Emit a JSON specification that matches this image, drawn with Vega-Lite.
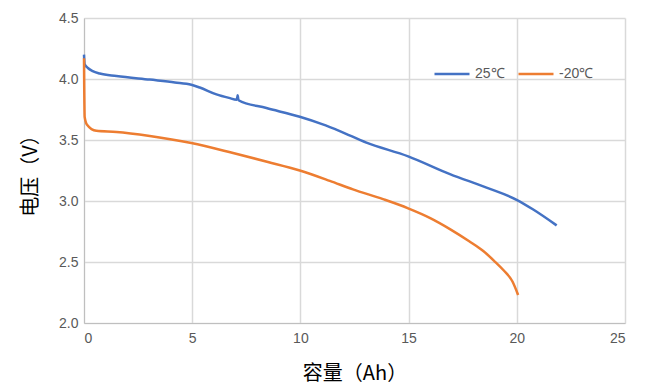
{
  "$schema": "https://vega.github.io/schema/vega-lite/v6.json",
  "autosize": {"type": "none"},
  "width": 541,
  "height": 305,
  "padding": {"left": 84, "top": 18, "right": 20, "bottom": 69},
  "background": "white",
  "config": {
    "view": {"stroke": null},
    "font": "Liberation Sans"
  },
  "data": {
    "values": [
      {"x": 0.0, "y": 4.2, "s": "25℃", "o": 1},
      {"x": 0.03, "y": 4.12, "s": "25℃", "o": 2},
      {"x": 0.18, "y": 4.09, "s": "25℃", "o": 3},
      {"x": 0.4, "y": 4.065, "s": "25℃", "o": 4},
      {"x": 0.73, "y": 4.045, "s": "25℃", "o": 5},
      {"x": 1.5, "y": 4.025, "s": "25℃", "o": 6},
      {"x": 3.04, "y": 3.995, "s": "25℃", "o": 7},
      {"x": 4.2, "y": 3.972, "s": "25℃", "o": 8},
      {"x": 4.96, "y": 3.953, "s": "25℃", "o": 9},
      {"x": 5.35, "y": 3.93, "s": "25℃", "o": 10},
      {"x": 6.12, "y": 3.874, "s": "25℃", "o": 11},
      {"x": 6.7, "y": 3.845, "s": "25℃", "o": 12},
      {"x": 7.06, "y": 3.83, "s": "25℃", "o": 13},
      {"x": 7.1, "y": 3.866, "s": "25℃", "o": 14},
      {"x": 7.14, "y": 3.826, "s": "25℃", "o": 15},
      {"x": 8.43, "y": 3.762, "s": "25℃", "o": 16},
      {"x": 9.97, "y": 3.69, "s": "25℃", "o": 17},
      {"x": 11.0, "y": 3.63, "s": "25℃", "o": 18},
      {"x": 11.82, "y": 3.573, "s": "25℃", "o": 19},
      {"x": 13.05, "y": 3.478, "s": "25℃", "o": 20},
      {"x": 14.98, "y": 3.366, "s": "25℃", "o": 21},
      {"x": 16.91, "y": 3.22, "s": "25℃", "o": 22},
      {"x": 18.6, "y": 3.11, "s": "25℃", "o": 23},
      {"x": 19.99, "y": 3.01, "s": "25℃", "o": 24},
      {"x": 20.76, "y": 2.93, "s": "25℃", "o": 25},
      {"x": 21.84, "y": 2.8, "s": "25℃", "o": 26},
      {"x": 0.0, "y": 4.17, "s": "-20℃", "o": 1},
      {"x": 0.03, "y": 3.69, "s": "-20℃", "o": 2},
      {"x": 0.14, "y": 3.625, "s": "-20℃", "o": 3},
      {"x": 0.57, "y": 3.575, "s": "-20℃", "o": 4},
      {"x": 1.5, "y": 3.566, "s": "-20℃", "o": 5},
      {"x": 3.04, "y": 3.533, "s": "-20℃", "o": 6},
      {"x": 4.96, "y": 3.475, "s": "-20℃", "o": 7},
      {"x": 6.89, "y": 3.393, "s": "-20℃", "o": 8},
      {"x": 8.5, "y": 3.32, "s": "-20℃", "o": 9},
      {"x": 9.97, "y": 3.25, "s": "-20℃", "o": 10},
      {"x": 11.36, "y": 3.165, "s": "-20℃", "o": 11},
      {"x": 12.43, "y": 3.095, "s": "-20℃", "o": 12},
      {"x": 13.82, "y": 3.015, "s": "-20℃", "o": 13},
      {"x": 14.98, "y": 2.94, "s": "-20℃", "o": 14},
      {"x": 16.0, "y": 2.86, "s": "-20℃", "o": 15},
      {"x": 16.91, "y": 2.77, "s": "-20℃", "o": 16},
      {"x": 17.8, "y": 2.67, "s": "-20℃", "o": 17},
      {"x": 18.45, "y": 2.59, "s": "-20℃", "o": 18},
      {"x": 18.95, "y": 2.51, "s": "-20℃", "o": 19},
      {"x": 19.4, "y": 2.43, "s": "-20℃", "o": 20},
      {"x": 19.8, "y": 2.34, "s": "-20℃", "o": 21},
      {"x": 20.06, "y": 2.23, "s": "-20℃", "o": 22}
    ]
  },
  "mark": {"type": "line", "strokeWidth": 2.5, "interpolate": "monotone"},
  "encoding": {
    "x": {
      "field": "x",
      "type": "quantitative",
      "scale": {"domain": [0, 25], "nice": false, "zero": false},
      "axis": {
        "values": [0, 5, 10, 15, 20, 25],
        "title": "容量（Ah）",
        "titleFont": "Noto Sans CJK SC",
        "titleFontSize": 20,
        "titleFontWeight": "normal",
        "titleColor": "#000000",
        "titlePadding": 18,
        "labelFont": "Liberation Sans",
        "labelFontSize": 14,
        "labelColor": "#595959",
        "labelPadding": 8,
        "ticks": false,
        "domainColor": "#bfbfbf",
        "gridColor": "#d9d9d9",
        "gridWidth": 1.5
      }
    },
    "y": {
      "field": "y",
      "type": "quantitative",
      "scale": {"domain": [2.0, 4.5], "nice": false, "zero": false},
      "axis": {
        "values": [2.0, 2.5, 3.0, 3.5, 4.0, 4.5],
        "format": ".1f",
        "title": "电压（V）",
        "titleFont": "Noto Sans CJK SC",
        "titleFontSize": 20,
        "titleFontWeight": "normal",
        "titleColor": "#000000",
        "titlePadding": 18,
        "labelFont": "Liberation Sans",
        "labelFontSize": 14,
        "labelColor": "#595959",
        "labelPadding": 6,
        "ticks": false,
        "domainColor": "#bfbfbf",
        "gridColor": "#d9d9d9",
        "gridWidth": 1.5
      }
    },
    "color": {
      "field": "s",
      "type": "nominal",
      "scale": {"domain": ["25℃", "-20℃"], "range": ["#4472C4", "#ED7D31"]},
      "legend": {
        "title": null,
        "orient": "none",
        "legendX": 349,
        "legendY": 37,
        "direction": "horizontal",
        "symbolType": "stroke",
        "symbolSize": 1225,
        "symbolStrokeWidth": 2.5,
        "labelFont": "Liberation Sans",
        "labelFontSize": 14,
        "labelColor": "#595959",
        "labelOffset": 4,
        "columnPadding": 8
      }
    },
    "order": {"field": "o", "type": "quantitative"}
  }
}
